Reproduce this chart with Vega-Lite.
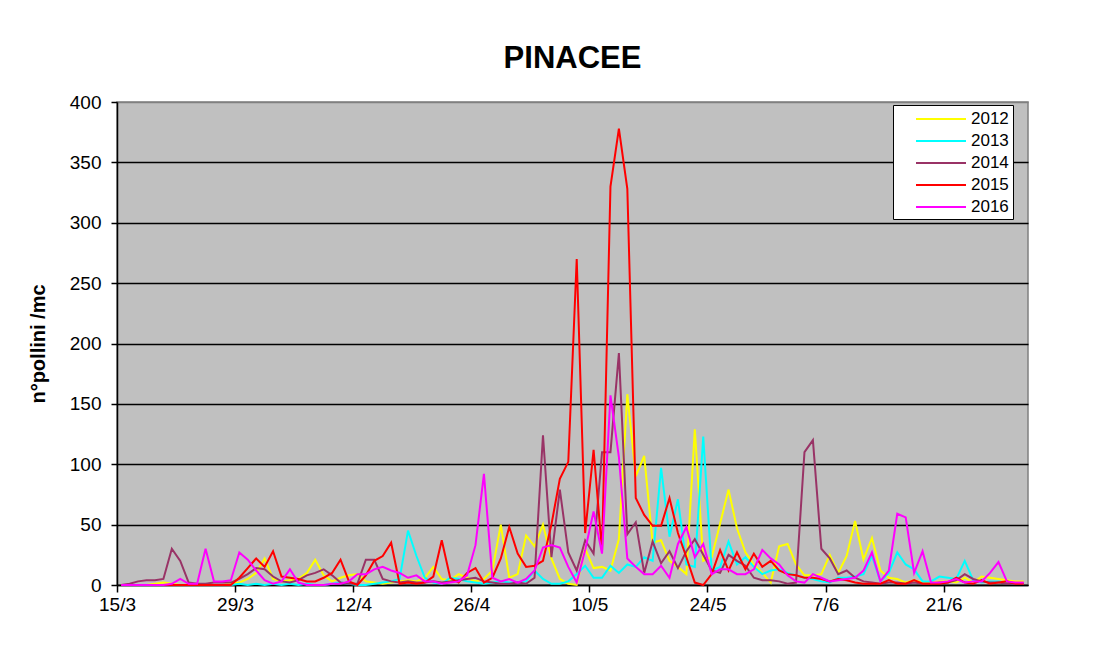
{
"$schema": "https://vega.github.io/schema/vega-lite/v6.json",
"width": 911,
"height": 483,
"autosize": {"type": "none"},
"padding": {"left": 117, "top": 102, "right": 73, "bottom": 67},
"background": "white",
"title": {"text": "PINACEE", "fontSize": 31, "font": "Liberation Sans", "fontWeight": "bold", "color": "black", "anchor": "middle", "frame": "group", "baseline": "alphabetic", "offset": 33, "dy": 39},
"data": {"values": [
{"date":"2015-03-15","2012":0,"2013":0,"2014":0,"2015":0,"2016":0},
{"date":"2015-03-16","2012":0,"2013":0,"2014":1,"2015":0,"2016":0},
{"date":"2015-03-17","2012":0,"2013":0,"2014":3,"2015":0,"2016":0},
{"date":"2015-03-18","2012":0,"2013":0,"2014":4,"2015":0,"2016":0},
{"date":"2015-03-19","2012":1,"2013":0,"2014":4,"2015":0,"2016":0},
{"date":"2015-03-20","2012":2,"2013":0,"2014":5,"2015":0,"2016":0},
{"date":"2015-03-21","2012":1,"2013":0,"2014":30,"2015":0,"2016":1},
{"date":"2015-03-22","2012":0,"2013":0,"2014":20,"2015":0,"2016":5},
{"date":"2015-03-23","2012":0,"2013":0,"2014":2,"2015":0,"2016":1},
{"date":"2015-03-24","2012":0,"2013":0,"2014":1,"2015":0,"2016":1},
{"date":"2015-03-25","2012":0,"2013":0,"2014":1,"2015":0,"2016":30},
{"date":"2015-03-26","2012":0,"2013":0,"2014":2,"2015":0,"2016":3},
{"date":"2015-03-27","2012":0,"2013":0,"2014":2,"2015":0,"2016":3},
{"date":"2015-03-28","2012":1,"2013":0,"2014":2,"2015":0,"2016":4},
{"date":"2015-03-29","2012":2,"2013":1,"2014":5,"2015":6,"2016":27},
{"date":"2015-03-30","2012":5,"2013":0,"2014":9,"2015":14,"2016":21},
{"date":"2015-03-31","2012":10,"2013":1,"2014":14,"2015":22,"2016":12},
{"date":"2015-04-01","2012":22,"2013":0,"2014":13,"2015":15,"2016":4},
{"date":"2015-04-02","2012":5,"2013":1,"2014":7,"2015":28,"2016":1},
{"date":"2015-04-03","2012":3,"2013":0,"2014":3,"2015":7,"2016":3},
{"date":"2015-04-04","2012":4,"2013":1,"2014":2,"2015":6,"2016":13},
{"date":"2015-04-05","2012":5,"2013":0,"2014":4,"2015":5,"2016":2},
{"date":"2015-04-06","2012":10,"2013":1,"2014":8,"2015":3,"2016":0},
{"date":"2015-04-07","2012":21,"2013":0,"2014":10,"2015":3,"2016":0},
{"date":"2015-04-08","2012":8,"2013":0,"2014":13,"2015":6,"2016":0},
{"date":"2015-04-09","2012":3,"2013":1,"2014":8,"2015":10,"2016":1},
{"date":"2015-04-10","2012":6,"2013":2,"2014":2,"2015":21,"2016":1},
{"date":"2015-04-11","2012":8,"2013":1,"2014":1,"2015":3,"2016":3},
{"date":"2015-04-12","2012":9,"2013":0,"2014":1,"2015":0,"2016":9},
{"date":"2015-04-13","2012":3,"2013":0,"2014":21,"2015":8,"2016":9},
{"date":"2015-04-14","2012":2,"2013":1,"2014":21,"2015":20,"2016":13},
{"date":"2015-04-15","2012":1,"2013":2,"2014":5,"2015":24,"2016":15},
{"date":"2015-04-16","2012":2,"2013":3,"2014":3,"2015":35,"2016":12},
{"date":"2015-04-17","2012":3,"2013":5,"2014":2,"2015":1,"2016":10},
{"date":"2015-04-18","2012":4,"2013":45,"2014":3,"2015":2,"2016":6},
{"date":"2015-04-19","2012":3,"2013":24,"2014":2,"2015":1,"2016":8},
{"date":"2015-04-20","2012":6,"2013":6,"2014":2,"2015":2,"2016":3},
{"date":"2015-04-21","2012":15,"2013":2,"2014":3,"2015":7,"2016":3},
{"date":"2015-04-22","2012":5,"2013":1,"2014":2,"2015":37,"2016":1},
{"date":"2015-04-23","2012":4,"2013":6,"2014":3,"2015":6,"2016":2},
{"date":"2015-04-24","2012":9,"2013":5,"2014":4,"2015":2,"2016":3},
{"date":"2015-04-25","2012":6,"2013":3,"2014":5,"2015":10,"2016":8},
{"date":"2015-04-26","2012":3,"2013":2,"2014":6,"2015":14,"2016":33},
{"date":"2015-04-27","2012":5,"2013":1,"2014":3,"2015":2,"2016":92},
{"date":"2015-04-28","2012":12,"2013":2,"2014":2,"2015":6,"2016":6},
{"date":"2015-04-29","2012":50,"2013":3,"2014":1,"2015":22,"2016":3},
{"date":"2015-04-30","2012":6,"2013":2,"2014":1,"2015":48,"2016":5},
{"date":"2015-05-01","2012":9,"2013":2,"2014":2,"2015":26,"2016":2},
{"date":"2015-05-02","2012":41,"2013":3,"2014":1,"2015":15,"2016":5},
{"date":"2015-05-03","2012":32,"2013":12,"2014":6,"2015":16,"2016":12},
{"date":"2015-05-04","2012":50,"2013":5,"2014":124,"2015":20,"2016":31},
{"date":"2015-05-05","2012":22,"2013":1,"2014":23,"2015":50,"2016":33},
{"date":"2015-05-06","2012":5,"2013":1,"2014":79,"2015":88,"2016":31},
{"date":"2015-05-07","2012":1,"2013":3,"2014":27,"2015":102,"2016":15},
{"date":"2015-05-08","2012":0,"2013":9,"2014":12,"2015":270,"2016":2},
{"date":"2015-05-09","2012":30,"2013":16,"2014":37,"2015":43,"2016":29},
{"date":"2015-05-10","2012":14,"2013":6,"2014":26,"2015":112,"2016":61},
{"date":"2015-05-11","2012":15,"2013":6,"2014":110,"2015":28,"2016":26},
{"date":"2015-05-12","2012":12,"2013":16,"2014":110,"2015":330,"2016":157},
{"date":"2015-05-13","2012":38,"2013":10,"2014":192,"2015":378,"2016":106},
{"date":"2015-05-14","2012":158,"2013":17,"2014":42,"2015":328,"2016":22},
{"date":"2015-05-15","2012":90,"2013":15,"2014":52,"2015":72,"2016":15},
{"date":"2015-05-16","2012":107,"2013":23,"2014":10,"2015":58,"2016":9},
{"date":"2015-05-17","2012":35,"2013":20,"2014":36,"2015":49,"2016":9},
{"date":"2015-05-18","2012":37,"2013":97,"2014":18,"2015":49,"2016":16},
{"date":"2015-05-19","2012":20,"2013":40,"2014":28,"2015":72,"2016":6},
{"date":"2015-05-20","2012":15,"2013":71,"2014":14,"2015":43,"2016":34},
{"date":"2015-05-21","2012":9,"2013":17,"2014":28,"2015":23,"2016":48},
{"date":"2015-05-22","2012":129,"2013":15,"2014":38,"2015":2,"2016":23},
{"date":"2015-05-23","2012":20,"2013":123,"2014":25,"2015":0,"2016":34},
{"date":"2015-05-24","2012":23,"2013":12,"2014":12,"2015":9,"2016":9},
{"date":"2015-05-25","2012":51,"2013":15,"2014":10,"2015":29,"2016":13},
{"date":"2015-05-26","2012":79,"2013":36,"2014":25,"2015":12,"2016":13},
{"date":"2015-05-27","2012":47,"2013":17,"2014":20,"2015":27,"2016":9},
{"date":"2015-05-28","2012":27,"2013":23,"2014":16,"2015":13,"2016":9},
{"date":"2015-05-29","2012":17,"2013":15,"2014":6,"2015":26,"2016":13},
{"date":"2015-05-30","2012":10,"2013":9,"2014":4,"2015":15,"2016":29},
{"date":"2015-05-31","2012":2,"2013":12,"2014":4,"2015":20,"2016":22},
{"date":"2015-06-01","2012":32,"2013":13,"2014":3,"2015":12,"2016":17},
{"date":"2015-06-02","2012":34,"2013":10,"2014":1,"2015":9,"2016":8},
{"date":"2015-06-03","2012":17,"2013":8,"2014":2,"2015":8,"2016":3},
{"date":"2015-06-04","2012":8,"2013":6,"2014":110,"2015":6,"2016":2},
{"date":"2015-06-05","2012":8,"2013":5,"2014":120,"2015":6,"2016":9},
{"date":"2015-06-06","2012":9,"2013":3,"2014":30,"2015":5,"2016":6},
{"date":"2015-06-07","2012":25,"2013":2,"2014":22,"2015":3,"2016":3},
{"date":"2015-06-08","2012":10,"2013":6,"2014":9,"2015":5,"2016":4},
{"date":"2015-06-09","2012":24,"2013":6,"2014":12,"2015":4,"2016":5},
{"date":"2015-06-10","2012":53,"2013":7,"2014":6,"2015":2,"2016":6},
{"date":"2015-06-11","2012":21,"2013":9,"2014":3,"2015":1,"2016":12},
{"date":"2015-06-12","2012":39,"2013":24,"2014":2,"2015":1,"2016":27},
{"date":"2015-06-13","2012":12,"2013":3,"2014":1,"2015":1,"2016":3},
{"date":"2015-06-14","2012":6,"2013":10,"2014":2,"2015":4,"2016":12},
{"date":"2015-06-15","2012":5,"2013":27,"2014":2,"2015":1,"2016":59},
{"date":"2015-06-16","2012":2,"2013":17,"2014":1,"2015":1,"2016":56},
{"date":"2015-06-17","2012":4,"2013":13,"2014":2,"2015":4,"2016":10},
{"date":"2015-06-18","2012":2,"2013":3,"2014":1,"2015":1,"2016":28},
{"date":"2015-06-19","2012":2,"2013":3,"2014":1,"2015":1,"2016":2},
{"date":"2015-06-20","2012":3,"2013":7,"2014":2,"2015":1,"2016":2},
{"date":"2015-06-21","2012":3,"2013":6,"2014":2,"2015":2,"2016":3},
{"date":"2015-06-22","2012":2,"2013":5,"2014":4,"2015":6,"2016":5},
{"date":"2015-06-23","2012":6,"2013":20,"2014":9,"2015":2,"2016":2},
{"date":"2015-06-24","2012":2,"2013":4,"2014":5,"2015":1,"2016":3},
{"date":"2015-06-25","2012":7,"2013":2,"2014":3,"2015":4,"2016":3},
{"date":"2015-06-26","2012":6,"2013":3,"2014":2,"2015":1,"2016":10},
{"date":"2015-06-27","2012":5,"2013":3,"2014":2,"2015":2,"2016":19},
{"date":"2015-06-28","2012":4,"2013":2,"2014":1,"2015":3,"2016":3},
{"date":"2015-06-29","2012":3,"2013":1,"2014":1,"2015":1,"2016":2},
{"date":"2015-06-30","2012":3,"2013":1,"2014":1,"2015":1,"2016":2}
]},
"transform": [{"fold": ["2012", "2013", "2014", "2015", "2016"], "as": ["anno", "value"]}],
"mark": {"type": "line", "strokeWidth": 2, "interpolate": "linear"},
"encoding": {
  "x": {
    "field": "date", "timeUnit": "utcyearmonthdate", "type": "temporal", "bandPosition": 0.5,
    "scale": {"domain": [{"year": 2015, "month": 3, "date": 15, "utc": true}, {"year": 2015, "month": 7, "date": 1, "utc": true}], "nice": false},
    "axis": {
      "values": [
        {"year": 2015, "month": 3, "date": 15, "utc": true},
        {"year": 2015, "month": 3, "date": 29, "utc": true},
        {"year": 2015, "month": 4, "date": 12, "utc": true},
        {"year": 2015, "month": 4, "date": 26, "utc": true},
        {"year": 2015, "month": 5, "date": 10, "utc": true},
        {"year": 2015, "month": 5, "date": 24, "utc": true},
        {"year": 2015, "month": 6, "date": 7, "utc": true},
        {"year": 2015, "month": 6, "date": 21, "utc": true}
      ],
      "format": "%-d/%-m", "title": null, "grid": false,
      "domainColor": "black", "domainWidth": 1.5, "tickColor": "black", "tickWidth": 1.5, "tickSize": 7,
      "labelFont": "Liberation Sans", "labelFontSize": 19, "labelColor": "black", "labelPadding": 3,
      "labelFlush": false, "labelOverlap": false, "labelBound": false
    }
  },
  "y": {
    "field": "value", "type": "quantitative",
    "scale": {"domain": [0, 400], "nice": false},
    "axis": {
      "values": [0, 50, 100, 150, 200, 250, 300, 350, 400],
      "title": "n°pollini /mc", "titleFont": "Liberation Sans", "titleFontSize": 20, "titleFontWeight": "bold", "titleColor": "black",
      "titleX": -69, "titleY": 241.5, "titleAngle": 270, "titleAlign": "center",
      "domainColor": "black", "domainWidth": 1.5, "tickColor": "black", "tickWidth": 1.5, "tickSize": 6,
      "labelFont": "Liberation Sans", "labelFontSize": 19, "labelColor": "black", "labelPadding": 10,
      "grid": true, "gridWidth": 1.5, "gridOpacity": 1,
      "gridColor": {"condition": {"test": "datum.value === 400", "value": "#808080"}, "value": "black"}
    }
  },
  "color": {
    "field": "anno", "type": "nominal",
    "scale": {"domain": ["2012", "2013", "2014", "2015", "2016"], "range": ["#FFFF00", "#00FFFF", "#993366", "#FF0000", "#FF00FF"]},
    "legend": {
      "title": null, "orient": "none", "legendX": 776, "legendY": 3,
      "fillColor": "white", "strokeColor": "black", "padding": 4,
      "symbolType": "M-2.7778,0H2.7778", "symbolSize": 324, "symbolStrokeWidth": 2, "symbolOffset": 34,
      "labelFont": "Liberation Sans", "labelFontSize": 17, "labelColor": "black", "labelOffset": 20, "rowPadding": 4
    }
  }
},
"config": {
  "view": {"fill": "#C0C0C0", "stroke": "#808080", "strokeWidth": 1.5},
  "font": "Liberation Sans"
}
}
